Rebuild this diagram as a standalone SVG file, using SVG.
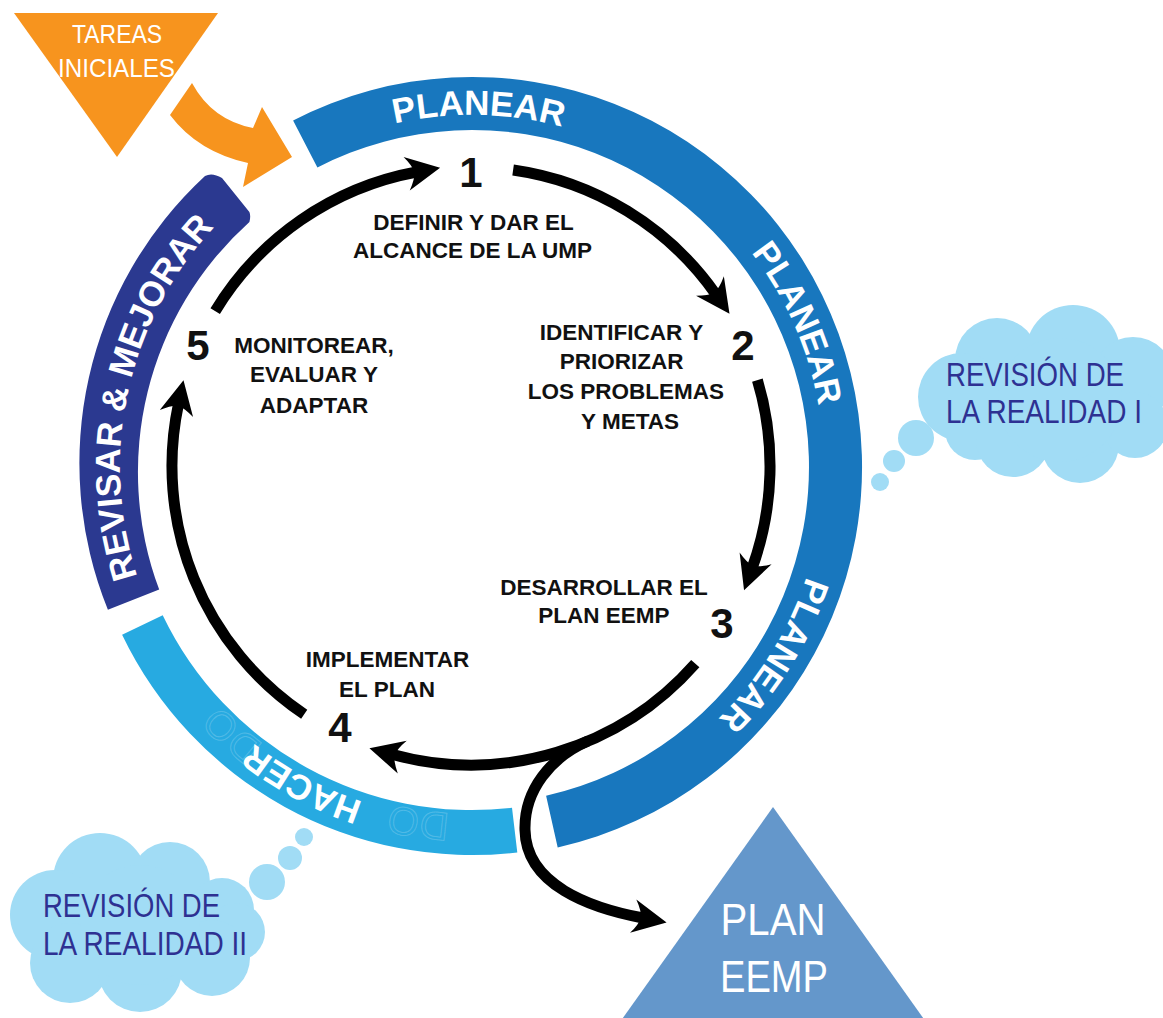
<svg xmlns="http://www.w3.org/2000/svg" width="1163" height="1018" viewBox="0 0 1163 1018">
<style>
.band-txt{font-family:"Liberation Sans",Arial,sans-serif;font-weight:bold;font-size:35px;fill:#fff;}
.ghost{font-family:"Liberation Sans",Arial,sans-serif;font-size:40px;fill:none;stroke:#fff;stroke-opacity:0.2;stroke-width:1;}
.step{font-family:"Liberation Sans",Arial,sans-serif;font-weight:bold;font-size:22.5px;fill:#111;text-anchor:middle;}
.num{font-family:"Liberation Sans",Arial,sans-serif;font-weight:bold;font-size:42px;fill:#111;text-anchor:middle;}
.cloud{fill:#A1DCF5;}
.cloud-txt{font-family:"Liberation Sans",Arial,sans-serif;font-size:33px;fill:#2E3192;}
.tri-txt{font-family:"Liberation Sans",Arial,sans-serif;fill:#fff;text-anchor:middle;}
.conn{fill:none;stroke:#000;stroke-width:11;marker-end:url(#ah);}
</style>
<defs>
<path id="ring" d="M472,819 A352,352 0 1 1 472,115 A352,352 0 1 1 472,819"/>
<path id="ringDo" d="M472,814 A347,347 0 1 1 472,120 A347,347 0 1 1 472,814"/>
<marker id="ah" markerUnits="userSpaceOnUse" viewBox="-15 -25 45 50" markerWidth="45" markerHeight="50" refX="0" refY="0" orient="auto">
<path d="M24,0 L-10,-17 Q-3,-7 -2,0 Q-3,7 -10,17 Z" fill="#000"/>
</marker>
</defs>

<g id="tareas-iniciales">
<polygon points="14,13 218,13 117,157" fill="#F7941E"/>
<text class="tri-txt" x="117" y="43" font-size="25" textLength="90" lengthAdjust="spacingAndGlyphs">TAREAS</text>
<text class="tri-txt" x="116.5" y="77" font-size="25" textLength="117" lengthAdjust="spacingAndGlyphs">INICIALES</text>
<path d="M192,83 Q212,120 253,128 L262,107 L292,157 L243,187 L248,163 Q198,152 170,115 Z" fill="#F7941E"/>
</g>

<g id="band-planear">
<path d="M293.1,120.4 A390,390 0 1 1 557.7,847.4 L546.1,795.7 A337,337 0 1 0 317.4,167.5 Z" fill="#1877BE"/>
<text class="band-txt" text-anchor="middle"><textPath href="#ring" startOffset="1112">PLANEAR</textPath></text>
<text class="band-txt" text-anchor="middle"><textPath href="#ring" startOffset="1512">PLANEAR</textPath></text>
<text class="band-txt" text-anchor="middle"><textPath href="#ring" startOffset="1854">PLANEAR</textPath></text>
</g>

<g id="band-hacer">
<path d="M517.3,852.4 A388,388 0 0 1 122.1,634.7 L162.7,615.2 A343,343 0 0 0 512.0,807.7 Z" fill="#27AAE1"/>
<text class="ghost" text-anchor="middle"><textPath href="#ringDo" startOffset="253">DO</textPath></text>
<text class="ghost" text-anchor="middle"><textPath href="#ringDo" startOffset="52">DO</textPath></text>
<text class="band-txt" text-anchor="middle"><textPath href="#ring" startOffset="173">HACER</textPath></text>
</g>

<g id="band-revisar">
<path d="M107.9,609.7 A391,391 0 0 1 205,176 Q212,172 222,178 L249.4,212 Q251,216 249.4,222 A336,336 0 0 0 159.2,589.6 Z" fill="#2B3990"/>
<text class="band-txt" text-anchor="middle"><textPath href="#ring" startOffset="629">REVISAR &amp; MEJORAR</textPath></text>
</g>

<g id="connectors">
<path class="conn" d="M215.2,311.1 A299,299 0 0 1 416.5,172.0"/>
<path class="conn" d="M513.1,170.0 A299,299 0 0 1 715.7,294.1"/>
<path class="conn" d="M757.4,380.1 A299,299 0 0 1 752.2,567.8"/>
<path class="conn" d="M695.3,663.7 A299,299 0 0 1 392.6,754.5"/>
<path class="conn" d="M304.2,714.2 A299,299 0 0 1 178.5,403.8"/>
<path class="conn" d="M588,741 C551,757 524,790 525,830 C526,885 590,908 643,918"/>
</g>

<g id="step1">
<text class="num" x="471" y="187">1</text>
<text class="step" x="473.5" y="230">DEFINIR Y DAR EL</text>
<text class="step" x="472.5" y="258">ALCANCE DE LA UMP</text>
</g>
<g id="step2">
<text class="num" x="743" y="360">2</text>
<text class="step" x="621.5" y="340">IDENTIFICAR Y</text>
<text class="step" x="621.5" y="369">PRIORIZAR</text>
<text class="step" x="626" y="399">LOS PROBLEMAS</text>
<text class="step" x="630" y="429">Y METAS</text>
</g>
<g id="step3">
<text class="num" x="722" y="638">3</text>
<text class="step" x="604" y="595">DESARROLLAR EL</text>
<text class="step" x="604" y="623">PLAN EEMP</text>
</g>
<g id="step4">
<text class="num" x="340" y="742">4</text>
<text class="step" x="387.5" y="667">IMPLEMENTAR</text>
<text class="step" x="387" y="697">EL PLAN</text>
</g>
<g id="step5">
<text class="num" x="198" y="360">5</text>
<text class="step" x="314" y="353">MONITOREAR,</text>
<text class="step" x="314" y="382">EVALUAR Y</text>
<text class="step" x="314" y="413">ADAPTAR</text>
</g>

<g id="cloud-realidad-1">
<g class="cloud">
<circle cx="997" cy="360" r="42"/>
<circle cx="1073" cy="352" r="47"/>
<circle cx="1133" cy="378" r="41"/>
<circle cx="962" cy="397" r="44"/>
<circle cx="975" cy="430" r="30"/>
<circle cx="1013" cy="440" r="37"/>
<circle cx="1080" cy="444" r="39"/>
<circle cx="1135" cy="425" r="33"/>
<circle cx="1060" cy="400" r="62"/>
<circle cx="916" cy="438" r="18"/>
<circle cx="894" cy="461" r="11"/>
<circle cx="880" cy="482" r="9"/>
</g>
<text class="cloud-txt" x="946" y="386" textLength="178" lengthAdjust="spacingAndGlyphs">REVISIÓN DE</text>
<text class="cloud-txt" x="946" y="423" textLength="196" lengthAdjust="spacingAndGlyphs">LA REALIDAD I</text>
</g>

<g id="cloud-realidad-2">
<g class="cloud">
<circle cx="100" cy="880" r="47"/>
<circle cx="170" cy="882" r="40"/>
<circle cx="222" cy="910" r="32"/>
<circle cx="236" cy="932" r="29"/>
<circle cx="55" cy="915" r="45"/>
<circle cx="70" cy="963" r="40"/>
<circle cx="140" cy="970" r="42"/>
<circle cx="212" cy="958" r="38"/>
<circle cx="140" cy="925" r="60"/>
<circle cx="267" cy="882" r="18"/>
<circle cx="290" cy="858" r="12"/>
<circle cx="304" cy="837" r="9"/>
</g>
<text class="cloud-txt" x="43" y="917" font-size="31" textLength="177" lengthAdjust="spacingAndGlyphs">REVISIÓN DE</text>
<text class="cloud-txt" x="43" y="955" font-size="31" textLength="204" lengthAdjust="spacingAndGlyphs">LA REALIDAD II</text>
</g>

<g id="plan-eemp">
<polygon points="773,807 620,1022 926,1022" fill="#6497CB"/>
<text class="tri-txt" x="773" y="935" font-size="44" textLength="105" lengthAdjust="spacingAndGlyphs">PLAN</text>
<text class="tri-txt" x="774" y="992" font-size="44" textLength="108" lengthAdjust="spacingAndGlyphs">EEMP</text>
</g>
</svg>
